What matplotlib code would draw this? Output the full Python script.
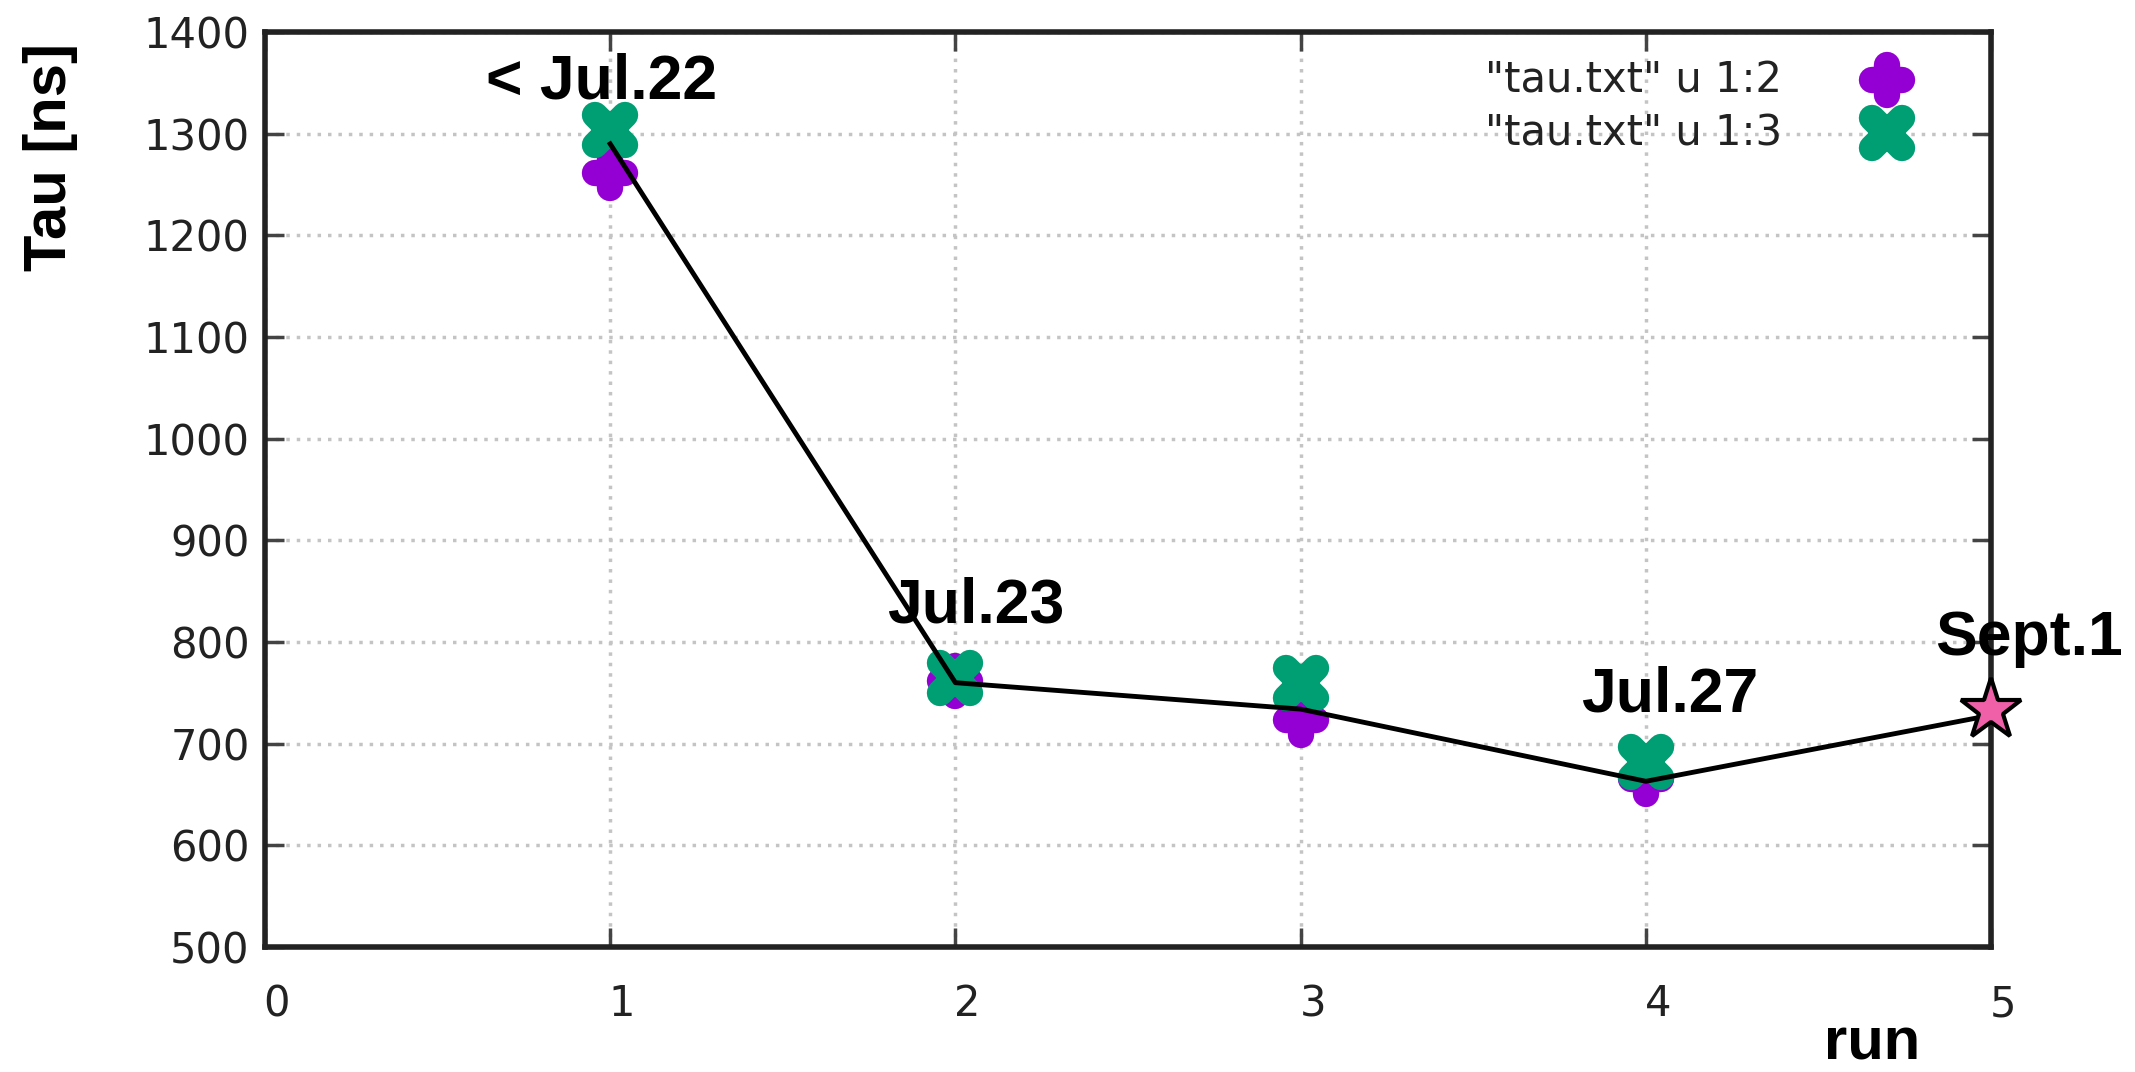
import matplotlib
matplotlib.use("Agg")
import matplotlib.pyplot as plt
import matplotlib.transforms as mtransforms
from matplotlib.markers import MarkerStyle

runs = [1, 2, 3, 4]
tau_col2 = [1261, 762, 723, 665]
tau_col3 = [1304, 765, 760, 682]
line_runs = [1, 2, 3, 4, 5]
line_tau = [1290, 760, 734, 663, 728]
star_run = [5]
star_tau = [733]
ann_labels = ["< Jul.22", "Jul.23", "Jul.27", "Sept.1"]
ann_x = [0.975, 2.058, 4.07, 5.11]
ann_y = [1335, 819, 732, 787]
legend_labels = ['"tau.txt" u 1:2', '"tau.txt" u 1:3']
xticks = [0, 1, 2, 3, 4, 5]
yticks = [500, 600, 700, 800, 900, 1000, 1100, 1200, 1300, 1400]

PURPLE = "#9400D3"
GREEN = "#009E73"

fig = plt.figure(figsize=(21.35, 10.72), dpi=100)
ax = fig.add_axes([0.1241, 0.1166, 0.9326 - 0.1241, 0.9701 - 0.1166])

ax.set_xlim(0, 5)
ax.set_ylim(500, 1400)
ax.set_xticks(xticks)
ax.set_yticks(yticks)
ax.grid(True, color="#c4c4c4", linestyle=(0, (1, 2)), linewidth=2.5)

plus_m = MarkerStyle("+", capstyle="round")
x_m = MarkerStyle("x", capstyle="round")
PLUS_MS, X_MS, MEW = 21, 22, 19

ax.plot(runs, tau_col2, linestyle="none", marker=plus_m, markersize=PLUS_MS,
        markeredgewidth=MEW, color=PURPLE, zorder=3)
ax.plot(runs, tau_col3, linestyle="none", marker=x_m, markersize=X_MS,
        markeredgewidth=MEW, color=GREEN, zorder=4)
ax.plot(line_runs, line_tau, color="black", linewidth=3.5, zorder=5)
ax.plot(star_run, star_tau, linestyle="none", marker="*", markersize=46,
        markerfacecolor="#F060A8", markeredgecolor="black", markeredgewidth=3,
        zorder=6, clip_on=False)

for lab, x, y in zip(ann_labels, ann_x, ann_y):
    ax.text(x, y, lab, ha="center", va="baseline", fontsize=45,
            fontweight="bold", family="Liberation Sans", zorder=7, clip_on=False)

# manual legend (gnuplot style: text then marker)
leg_text_x = 0.879
leg_mark_x = 0.9397
leg_rows_y = [0.9475, 0.8896]
leg_markers = [(plus_m, PLUS_MS, PURPLE), (x_m, X_MS, GREEN)]
for lab, ly, (m, ms, c) in zip(legend_labels, leg_rows_y, leg_markers):
    ax.text(leg_text_x, ly, lab, transform=ax.transAxes, ha="right",
            va="center", fontsize=30, family="DejaVu Sans", color="#222222")
    ax.plot([leg_mark_x], [ly], transform=ax.transAxes, linestyle="none",
            marker=m, markersize=ms, markeredgewidth=MEW, color=c)

for s in ax.spines.values():
    s.set_linewidth(4)
    s.set_color("#222222")

ax.tick_params(direction="in", length=14, width=2.5, color="#444444",
               top=True, right=True, labelsize=30, labelcolor="#222222")
ax.tick_params(axis="x", pad=26)
ax.tick_params(axis="y", pad=11)
offset = mtransforms.ScaledTranslation(12 / 100, 0, fig.dpi_scale_trans)
for t in ax.get_xticklabels():
    t.set_transform(t.get_transform() + offset)
for t in ax.get_xticklabels() + ax.get_yticklabels():
    t.set_family("DejaVu Sans")

fig.text(51 / 2135, 1 - 157 / 1072, "Tau [ns]", rotation=90, ha="center",
         va="center", fontsize=43, fontweight="bold", family="Liberation Sans")
fig.text(1872 / 2135, 1 - 1059 / 1072, "run", ha="center", va="baseline",
         fontsize=43, fontweight="bold", family="Liberation Sans")

fig.savefig("out.png", dpi=100, facecolor="white")
